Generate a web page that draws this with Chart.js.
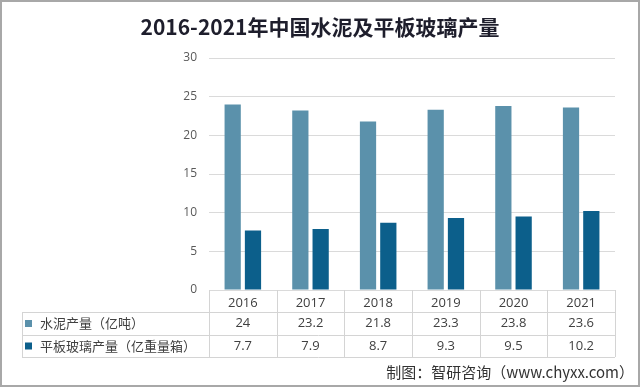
<!DOCTYPE html>
<html lang="zh">
<head>
<meta charset="UTF-8">
<title>2016-2021年中国水泥及平板玻璃产量</title>
<script src="https://cdn.jsdelivr.net/npm/chart.js"></script>
<style>
    body { margin: 0; background: #fff; }
    #wrap { width: 640px; height: 388px; position: relative; }
</style>
</head>
<body>
<div id="wrap"><canvas id="chart"></canvas></div>
<script>
    const years = ['2016', '2017', '2018', '2019', '2020', '2021'];
    const cement = [24, 23.2, 21.8, 23.3, 23.8, 23.6];
    const glass = [7.7, 7.9, 8.7, 9.3, 9.5, 10.2];
    const seriesNames = ['水泥产量（亿吨）', '平板玻璃产量（亿重量箱）'];
    const seriesColors = ['#5b91ab', '#0c5f8b'];

    const cjk = '"Noto Sans CJK SC", "Noto Sans", sans-serif';
    const num = '"Open Sans", "Noto Sans", sans-serif';

    // title, data table under the axis, footer and frame
    const tablePlugin = {
        id: 'tablePlugin',
        afterDraw(chart) {
            const ctx = chart.ctx;
            const x = chart.scales.x;
            const area = chart.chartArea;
            const half = (x.getPixelForValue(1) - x.getPixelForValue(0)) / 2;
            const tableLeft = 22;
            const rowLines = [312, 335, 357];
            const bottom = rowLines[rowLines.length - 1];

            ctx.save();
            ctx.strokeStyle = '#d4d4d4';
            ctx.lineWidth = 1;
            ctx.beginPath();
            rowLines.forEach(y => {
                ctx.moveTo(tableLeft, y + 0.5);
                ctx.lineTo(area.right, y + 0.5);
            });
            ctx.moveTo(tableLeft + 0.5, rowLines[0]);
            ctx.lineTo(tableLeft + 0.5, bottom);
            for (let i = 0; i <= years.length; i++) {
                const px = Math.round(x.getPixelForValue(0) - half + i * half * 2) + 0.5;
                ctx.moveTo(px, area.bottom);
                ctx.lineTo(px, bottom);
            }
            ctx.stroke();

            const rows = [cement, glass];
            const rowMid = [323.5, 346];
            rows.forEach((vals, r) => {
                ctx.fillStyle = seriesColors[r];
                ctx.fillRect(25, rowMid[r] - 3.5, 7, 7);
                ctx.fillStyle = '#404040';
                ctx.font = '13px ' + cjk;
                ctx.textAlign = 'left';
                ctx.textBaseline = 'middle';
                ctx.fillText(seriesNames[r], 40, rowMid[r]);
                ctx.font = '13px ' + num;
                ctx.textAlign = 'center';
                vals.forEach((v, i) => {
                    ctx.fillText(String(v), x.getPixelForValue(i), rowMid[r]);
                });
            });

            ctx.fillStyle = '#1e1e2c';
            ctx.font = 'bold 21px ' + cjk;
            ctx.textAlign = 'center';
            ctx.textBaseline = 'middle';
            ctx.fillText('2016-2021年中国水泥及平板玻璃产量', 320, 27);

            ctx.fillStyle = '#333';
            ctx.font = '15px ' + cjk;
            ctx.textAlign = 'right';
            ctx.fillText('制图：智研咨询（www.chyxx.com）', 634, 372);

            ctx.strokeStyle = '#a8a8a8';
            ctx.lineWidth = 2;
            ctx.strokeRect(1, 1, 638, 385);
            ctx.restore();
        }
    };

    new Chart(document.getElementById('chart'), {
        type: 'bar',
        data: {
            labels: years,
            datasets: [
                { label: seriesNames[0], data: cement, backgroundColor: seriesColors[0] },
                { label: seriesNames[1], data: glass, backgroundColor: seriesColors[1] }
            ]
        },
        options: {
            responsive: true,
            maintainAspectRatio: false,
            animation: false,
            layout: { padding: { top: 58, right: 25, left: 0, bottom: 0 } },
            plugins: {
                legend: { display: false },
                tooltip: { enabled: false }
            },
            datasets: {
                bar: { categoryPercentage: 0.6, barPercentage: 0.8 }
            },
            scales: {
                x: {
                    grid: { display: false, drawTicks: false },
                    border: { display: false },
                    ticks: { color: '#404040', font: { size: 13, family: num }, padding: 5 },
                    afterFit: s => { s.height = 98; }
                },
                y: {
                    min: 0,
                    max: 30,
                    ticks: { stepSize: 5, color: '#595959', font: { size: 12, family: num }, padding: 12 },
                    grid: { color: '#dadada', drawTicks: false },
                    border: { display: false },
                    afterFit: s => { s.width = 209; }
                }
            }
        },
        plugins: [tablePlugin]
    });
</script>
</body>
</html>
